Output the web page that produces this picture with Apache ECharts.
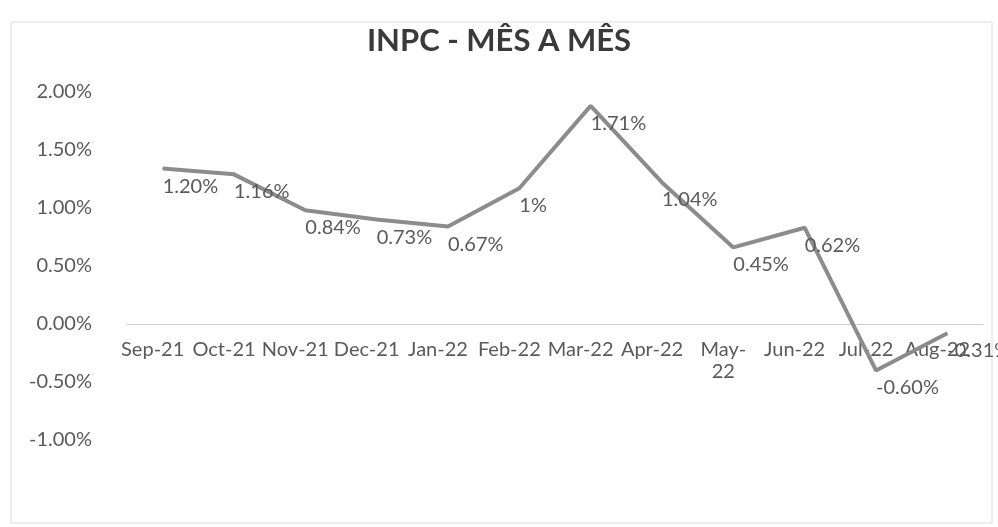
<!DOCTYPE html>
<html>
<head>
<meta charset="utf-8">
<script src="https://cdn.jsdelivr.net/npm/echarts@6/dist/echarts.min.js"></script>
<style>
  html, body { margin: 0; padding: 0; background: #fff; }
  #chart { width: 998px; height: 527px; }
</style>
</head>
<body>
<div id="chart"></div>
<script>
  // months on the x axis
  const months = ['Sep-21', 'Oct-21', 'Nov-21', 'Dec-21', 'Jan-22', 'Feb-22',
    'Mar-22', 'Apr-22', 'May-22', 'Jun-22', 'Jul-22', 'Aug-22']
  // line as drawn in the picture (%)
  const inpc = [1.34, 1.29, 0.98, 0.90, 0.84, 1.17, 1.88, 1.22, 0.66, 0.83, -0.40, -0.08]
  // data labels as printed next to each point
  const pointLabels = ['1.20%', '1.16%', '0.84%', '0.73%', '0.67%', '1%',
    '1.71%', '1.04%', '0.45%', '0.62%', '-0.60%', '-0.31%']
  const yTicks = { min: -1, max: 2, interval: 0.5 }

  const font = 'Lato, "Open Sans", sans-serif'
  const gridTop = 92
  const gridBottom = 87
  // x axis sits on 0%, so lift it from the bottom of the grid
  const plotHeight = 527 - gridTop - gridBottom
  const zeroLift = plotHeight * (0 - yTicks.min) / (yTicks.max - yTicks.min)

  const chart = echarts.init(document.getElementById('chart'))
  chart.setOption({
    backgroundColor: '#fff',
    animation: false,
    title: {
      text: 'INPC - MÊS A MÊS',
      left: 'center',
      top: 20,
      textStyle: { color: '#3a3a3a', fontSize: 31, fontWeight: 'bold', fontFamily: font }
    },
    graphic: [{
      type: 'rect',
      shape: { x: 11, y: 22, width: 981, height: 501 },
      style: { fill: 'none', stroke: '#dcdcdc', lineWidth: 1 },
      silent: true,
      z: -1
    }],
    grid: { left: 127, right: 15, top: gridTop, bottom: gridBottom },
    xAxis: {
      type: 'category',
      data: months,
      boundaryGap: true,
      offset: -zeroLift,
      axisLine: { onZero: false, lineStyle: { color: '#cfcfcf', width: 1 } },
      axisTick: { show: false },
      splitLine: { show: false },
      axisLabel: {
        interval: 0,
        margin: 15,
        padding: [0, 20, 0, 0],
        color: '#5a5a5a',
        fontSize: 20,
        fontFamily: font,
        lineHeight: 22,
        formatter(v) {
          return v === 'May-22' ? 'May-\n22' : v
        }
      }
    },
    yAxis: {
      type: 'value',
      min: yTicks.min,
      max: yTicks.max,
      interval: yTicks.interval,
      axisLine: { show: false },
      axisTick: { show: false },
      splitLine: { show: false },
      axisLabel: {
        margin: 35,
        color: '#5a5a5a',
        fontSize: 20,
        fontFamily: font,
        formatter(v) {
          return v.toFixed(2) + '%'
        }
      }
    },
    series: [{
      name: 'INPC',
      type: 'line',
      data: inpc,
      symbol: 'circle',
      symbolSize: 1,
      itemStyle: { color: '#8c8c8c' },
      lineStyle: { color: '#8c8c8c', width: 4 },
      label: {
        show: true,
        position: 'bottom',
        align: 'left',
        distance: 7,
        color: '#5a5a5a',
        fontSize: 20,
        fontFamily: font,
        formatter(p) {
          return pointLabels[p.dataIndex]
        }
      }
    }]
  })
</script>
</body>
</html>
